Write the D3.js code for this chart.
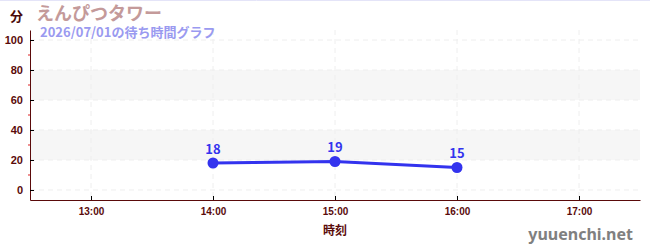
<!DOCTYPE html>
<html>
<head>
<meta charset="utf-8">
<script src="https://cdn.jsdelivr.net/npm/d3@7"></script>
<style>
  body { margin: 0; background: #fff; }
  svg { display: block; font-family: "Noto Sans CJK JP", "Noto Sans", sans-serif; }
</style>
</head>
<body>
<div id="chart"></div>
<script>
// data
const times = ["14:00", "15:00", "16:00"];
const waits = [18, 19, 15];
const xTickLabels = ["13:00", "14:00", "15:00", "16:00", "17:00"];
const yTickValues = [0, 20, 40, 60, 80, 100];
const bandRanges = [[20, 40], [60, 80]];

const W = 650, H = 250;
const margin = {top: 30, right: 10, bottom: 50, left: 30};
const width = W - margin.left - margin.right;
const height = H - margin.top - margin.bottom;

const parse = s => { const [h, m] = s.split(":").map(Number); return h + m / 60; };

const svg = d3.select("#chart").append("svg")
    .attr("width", W).attr("height", H);

// top border
svg.append("line").attr("x1", 0).attr("x2", W).attr("y1", 0.5).attr("y2", 0.5)
    .attr("stroke", "#e4e4f8");

const g = svg.append("g").attr("transform", `translate(${margin.left},${margin.top})`);

const x = d3.scaleLinear().domain([12.5, 17.5]).range([0, width]);
const y = d3.scaleLinear().domain([-6.67, 106.67]).range([height, 0]);

// bands
g.selectAll(".band").data(bandRanges).enter().append("rect")
    .attr("x", 0).attr("width", width)
    .attr("y", d => y(d[1])).attr("height", d => y(d[0]) - y(d[1]))
    .attr("fill", "#f6f6f6");

// grid
g.selectAll(".hgrid").data(yTickValues).enter().append("line")
    .attr("x1", 0).attr("x2", width)
    .attr("y1", d => y(d)).attr("y2", d => y(d))
    .attr("stroke", "#eeeeee").attr("stroke-dasharray", "5,4");
g.selectAll(".vgrid").data(xTickLabels).enter().append("line")
    .attr("x1", d => x(parse(d))).attr("x2", d => x(parse(d)))
    .attr("y1", 0).attr("y2", height)
    .attr("stroke", "#eeeeee").attr("stroke-dasharray", "5,4");

const axisColor = "#5a0a0a";

// y minor ticks
g.selectAll(".minor").data(d3.range(10, 101, 20)).enter().append("line")
    .attr("x1", -2).attr("x2", 1)
    .attr("y1", d => y(d)).attr("y2", d => y(d))
    .attr("stroke", "#dd2222");

// y axis
const yAxis = g.append("g")
    .call(d3.axisLeft(y).tickValues(yTickValues).tickSize(4).tickSizeOuter(0).tickPadding(3));
yAxis.select(".domain").attr("stroke", axisColor);
yAxis.selectAll(".tick line").attr("stroke", "#000").attr("x2", 4);
yAxis.selectAll("text").attr("fill", axisColor).attr("font-size", 11).attr("font-weight", "bold");

// x axis
const xAxis = g.append("g").attr("transform", `translate(0,${height})`)
    .call(d3.axisBottom(x).tickValues(xTickLabels.map(parse)).tickFormat((d, i) => xTickLabels[i])
        .tickSize(4).tickSizeOuter(0).tickPadding(4));
xAxis.select(".domain").attr("stroke", axisColor);
xAxis.selectAll(".tick line").attr("stroke", "#000").attr("y1", -4).attr("y2", 0);
xAxis.selectAll("text").attr("fill", axisColor).attr("font-size", 10).attr("font-weight", "bold");

// line
const pts = times.map((t, i) => ({t: parse(t), v: waits[i]}));
const blue = "#3333ee";
g.append("path").datum(pts)
    .attr("fill", "none").attr("stroke", blue).attr("stroke-width", 3)
    .attr("d", d3.line().x(d => x(d.t)).y(d => y(d.v)));
g.selectAll(".pt").data(pts).enter().append("circle")
    .attr("cx", d => x(d.t)).attr("cy", d => y(d.v)).attr("r", 5.5).attr("fill", blue);
g.selectAll(".lbl").data(pts).enter().append("text")
    .attr("x", d => x(d.t)).attr("y", d => y(d.v) - 9)
    .attr("text-anchor", "middle").attr("fill", blue)
    .attr("font-size", 13).attr("font-weight", "bold").text(d => d.v);

// titles
svg.append("text").attr("x", 10).attr("y", 21).attr("fill", "#4a0a0a")
    .attr("font-size", 13).attr("font-weight", "bold").text("分");
svg.append("text").attr("x", 36).attr("y", 20).attr("fill", "#c49a9a")
    .attr("font-size", 18).attr("font-weight", "bold").text("えんぴつタワー");
svg.append("text").attr("x", 40).attr("y", 37).attr("fill", "#9a9af0")
    .attr("font-size", 13).attr("font-weight", "bold").text("2026/07/01の待ち時間グラフ");

// axis title
svg.append("text").attr("x", margin.left + x(15)).attr("y", 235).attr("text-anchor", "middle")
    .attr("fill", axisColor).attr("font-size", 12).attr("font-weight", "bold").text("時刻");

// watermark
svg.append("text").attr("x", 633).attr("y", 240).attr("text-anchor", "end")
    .attr("fill", "#808080").attr("font-size", 16).attr("font-weight", "bold")
    .attr("font-family", "Noto Sans, sans-serif").text("yuuenchi.net");
</script>
</body>
</html>
